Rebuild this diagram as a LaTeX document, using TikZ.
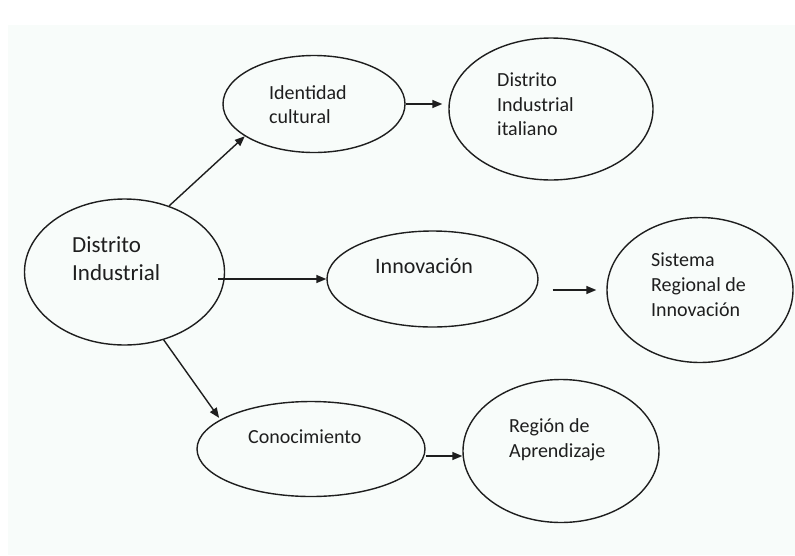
\documentclass[tikz,border=0pt]{standalone}
\usepackage{fontspec}
\setmainfont{Carlito}
\usetikzlibrary{arrows.meta,shapes.geometric}
\definecolor{bgtint}{RGB}{248,252,250}
\definecolor{ink}{RGB}{30,30,30}
\begin{document}
\begin{tikzpicture}[x=1pt,y=-1pt]
\tikzstyle{blob}=[ellipse,draw=ink,line width=1.4pt,inner sep=0pt]
\tikzstyle{txt}=[anchor=north west,inner sep=0pt,align=left,text=ink,font=\fontsize{20}{24.5}\selectfont]
\tikzstyle{arrow}=[-{Triangle[length=10pt,width=8pt]},line width=1.4pt,color=ink]

\useasboundingbox (0,0) rectangle (795,555);
\fill [white] (0,0) rectangle (795,555);
\fill [bgtint] (8,25) rectangle (795,555);

\node [blob,minimum width=200pt,minimum height=146pt] at (124.5,272) (distrito) {};
\node [blob,minimum width=182pt,minimum height=97pt] at (314,104) (identidad) {};
\node [blob,minimum width=204pt,minimum height=142pt] at (551,109) (italiano) {};
\node [blob,minimum width=211pt,minimum height=96pt] at (432.5,279) (innovacion) {};
\node [blob,minimum width=186pt,minimum height=145pt] at (700,290) (sistema) {};
\node [blob,minimum width=228pt,minimum height=95pt] at (311,449) (conocimiento) {};
\node [blob,minimum width=196pt,minimum height=143pt] at (561,451) (region) {};

\node [txt,font=\fontsize{23}{28}\selectfont] at (72,236) (distrito-txt) {Distrito\\Industrial};
\node [txt] at (269,85) (identidad-txt) {Identidad\\cultural};
\node [txt] at (497,73) (italiano-txt) {Distrito\\Industrial\\italiano};
\node [txt,font=\fontsize{22}{26}\selectfont] at (375,258) (innovacion-txt) {Innovación};
\node [txt,font=\fontsize{20}{25}\selectfont] at (651,253) (sistema-txt) {Sistema\\Regional de\\Innovación};
\node [txt] at (248,430) (conocimiento-txt) {Conocimiento};
\node [txt,font=\fontsize{20}{25}\selectfont] at (509,418) (region-txt) {Región de\\Aprendizaje};

\coordinate (innov-in) at (innovacion.west -| distrito.east);
\coordinate (region-in) at ([yshift=-7pt]conocimiento.east);

\path [arrow] (distrito.56) edge (identidad.205);
\path [arrow,shorten >=6pt] (identidad.east) edge (identidad.east -| italiano.west);
\path [arrow] ([xshift=-7pt]innov-in) edge (innovacion.west);
\path [arrow,shorten <=14pt,shorten >=10pt] (innovacion.east |- sistema.west) edge (sistema.west);
\path [arrow,shorten >=2pt] (distrito.-60) edge (conocimiento.162);
\path [arrow] (region-in) edge (region-in -| region.west);
\end{tikzpicture}
\end{document}
